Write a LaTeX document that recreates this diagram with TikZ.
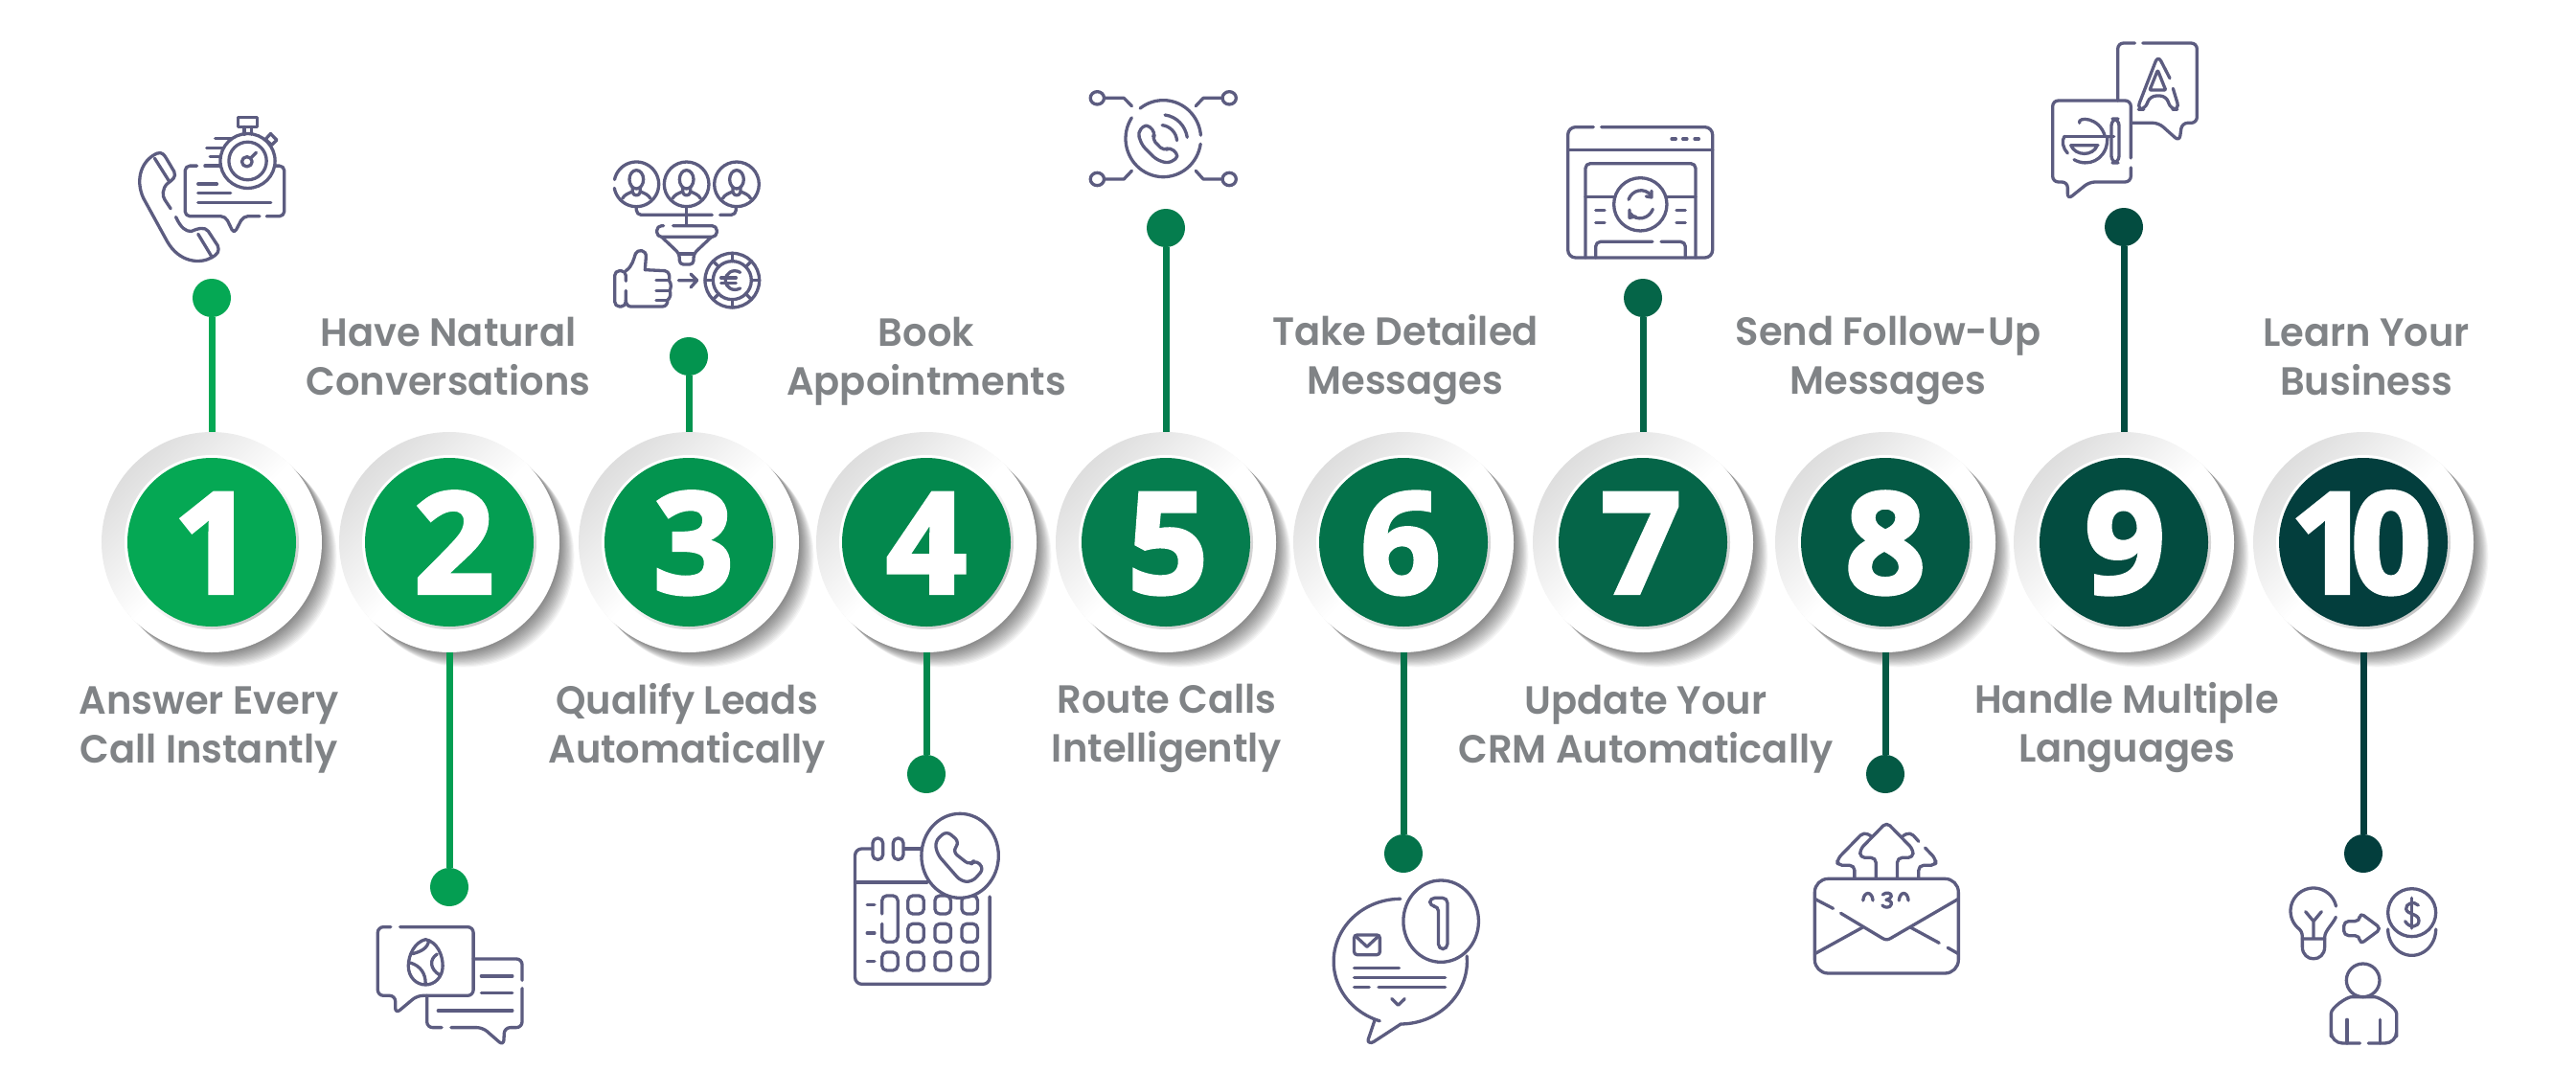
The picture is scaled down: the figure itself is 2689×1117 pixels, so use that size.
\documentclass[tikz,border=0pt]{standalone}
\usepackage{fontspec}
\newfontfamily\labfont[FakeStretch=0.975]{Poppins SemiBold}
\newfontfamily\digfont[FakeBold=3]{Open Sans Bold}
\definecolor{iconc}{HTML}{5C5C80}
\definecolor{labc}{HTML}{808386}
\definecolor{c1}{HTML}{05A854}
\definecolor{c2}{HTML}{049E52}
\definecolor{c3}{HTML}{03944F}
\definecolor{c4}{HTML}{03884D}
\definecolor{c5}{HTML}{057D4E}
\definecolor{c6}{HTML}{04724A}
\definecolor{c7}{HTML}{056548}
\definecolor{c8}{HTML}{045944}
\definecolor{c9}{HTML}{034C40}
\definecolor{c10}{HTML}{033E3D}
\tikzset{
  ringnode/.style={circle,minimum size=230pt,inner sep=0pt,top color=black!13,bottom color=white,middle color=white,shading angle=45},
  rimnode/.style={circle,minimum size=182pt,inner sep=0pt,top color=white,bottom color=black!22,middle color=white,shading angle=45},
  discnode/.style={circle,minimum size=176pt,inner sep=0pt},
  digitnode/.style={anchor=base,text=white,inner sep=0pt,font=\digfont\fontsize{146}{146}\selectfont},
  dotnode/.style={circle,minimum size=40pt,inner sep=0pt},
  conn/.style={line width=7pt},
  labelnode/.style={text=labc,align=center,inner sep=0pt,font=\labfont\fontsize{41}{51}\selectfont},
  icon/.style={draw=iconc,line width=3.3pt,line cap=round,line join=round},
  rc/.style={rounded corners=#1pt},
}
\newcommand{\earc}[6]{\draw plot[domain=#5:#6,samples=40,smooth,variable=\t] ({#1+#3*cos(\t)},{#2+#4*sin(\t)});}
\begin{document}
\begin{tikzpicture}[x=1pt,y=-1pt]
\useasboundingbox (0,0) rectangle (2689,1117);
\fill[white] (0,0) rectangle (2689,1117);
\foreach \n/\cx/\dy/\ox in {1/221/311/2,2/469/926/5,3/719/372/5,4/967/808/0,5/1217/238/2,6/1465/891/-3,7/1715/311/-2,8/1968/808/0,9/2217/237/1,10/2467/891/-3}{
  \foreach \k in {1,...,14}{\fill[black,opacity=.038] ({\cx+\k*1.1},{566+\k*1.1}) circle[radius=115];}
  \node[ringnode] (r\n) at (\cx,566) {};
  \node[rimnode] (m\n) at (\cx,566) {};
  \node[discnode,fill=c\n] (s\n) at (\cx,566) {};
  \node[digitnode] (t\n) at ({\cx+\ox},619) {\ifnum\n=10 1\kern-20pt 0\else\n\fi};
  \node[dotnode,fill=c\n] (d\n) at (\cx,\dy) {};
  \draw[conn,draw=c\n] (d\n) -- (r\n);
}
% labels
\foreach \i/\lx/\ly/\ta/\tb in {
 1/218/760/{Answer Every}/{Call Instantly},
 2/468/376/{Have Natural}/{Conversations},
 3/717/760/{Qualify Leads}/{Automatically},
 4/967/376/{Book}/{Appointments},
 5/1218/760/{Route Calls}/{Intelligently},
 6/1467/376/{Take Detailed}/{Messages},
 7/1718/760/{Update Your}/{CRM Automatically},
 8/1971/376/{Send Follow-Up}/{Messages},
 9/2220/760/{Handle Multiple}/{Languages},
 10/2470/376/{Learn Your}/{Business}}{
  \node[labelnode] (l\i) at (\lx,\ly) {\rule{0pt}{32pt}\ta\\\tb\rule[-11pt]{0pt}{11pt}};
}
% ---- icon 1
\begin{scope}[shift={(80,100)},xscale=0.3571,yscale=0.3953,icon]
 \draw (290,320) .. controls (305,350) and (320,358) .. (335,358) .. controls (355,350) and (375,345) .. (385,358) -- (412,395) .. controls (420,410) and (410,420) .. (395,427) .. controls (360,445) and (300,440) .. (265,385) -- (195,270) .. controls (170,220) and (190,170) .. (235,152) .. controls (250,148) and (255,155) .. (262,165) -- (285,200) .. controls (292,215) and (280,222) .. (265,232) .. controls (250,245) and (250,265) .. (258,275) -- (275,298);
 \draw (228,165) -- (270,225) (355,365) -- (395,425);
 \draw[rc=5] (352,185) -- (317,185) -- (317,318) -- (435,318) -- (460,365) -- (487,318) -- (535,318);
 \draw[rc=5] (555,318) -- (607,318) -- (607,185) -- (575,185);
 \draw (375,185)--(420,185) (405,113)--(470,113) (380,137)--(440,137) (390,160)--(430,160);
 \draw (355,233)--(410,233) (355,257)--(450,257) (355,282)--(568,282);
 \draw[fill=white] (500,172) circle[x radius=80,y radius=72];
 \draw (500,172) circle[x radius=55,y radius=50];
 \draw (498,174) circle[x radius=15,y radius=13];
 \draw (508,165)--(525,150);
 \draw (490,82)--(490,102) (512,82)--(512,102);
 \draw (472,57) rectangle (528,82);
 \draw (552,115)--(567,100)--(585,117)--(570,130)--cycle;
\end{scope}
% ---- icon 2
\begin{scope}[shift={(340,700)},xscale=0.4847,yscale=0.3333,icon]
 \draw[rc=6] (140,803) -- (112,803) -- (112,1018) -- (150,1018) -- (150,1075) -- (197,1018) -- (318,1018) -- (318,803) -- (160,803);
 \draw[rc=6] (318,903) -- (423,903) -- (423,970);
 \draw[rc=6] (423,995) -- (423,1118) -- (385,1118) -- (383,1175) -- (338,1118) -- (270,1118);
 \draw[rc=6] (250,1118) -- (218,1118) -- (218,1018);
 \draw (335,957)--(402,957) (335,1010)--(402,1010) (242,1065)--(402,1065);
 \draw (215,842) .. controls (240,850) and (252,890) .. (252,925) .. controls (252,960) and (235,984) .. (215,984) .. controls (195,984) and (178,960) .. (178,925) .. controls (178,890) and (192,850) .. (215,842) -- cycle;
 \draw (222,845) .. controls (220,870) and (205,880) .. (187,887);
 \draw (182,915) .. controls (205,925) and (215,950) .. (215,980);
 \draw (240,888) .. controls (222,905) and (225,935) .. (245,953);
\end{scope}
% ---- icon 3
\begin{scope}[shift={(620,150)},scale=0.3333,icon]
 \earc{133}{127}{70}{70}{10}{170}
 \earc{133}{127}{70}{70}{192}{370}
 \draw (290,127) circle[radius=70];
 \draw (447,127) circle[radius=70];
 \foreach \hx in {133,290,447}{
  \draw ({\hx},112) circle[x radius=22,y radius=29];
  \draw ({\hx-12},138) -- ({\hx-12},152) .. controls ({\hx-8},165) and ({\hx+8},165) .. ({\hx+12},152) -- ({\hx+12},138);
  \draw ({\hx-44},172) .. controls ({\hx-38},160) and ({\hx-25},155) .. ({\hx-12},150);
  \draw ({\hx+44},172) .. controls ({\hx+38},160) and ({\hx+25},155) .. ({\hx+12},150);
 }
 \draw[rc=5] (133,197) -- (133,223) -- (370,223);
 \draw[rc=5] (395,223) -- (445,223) -- (445,197);
 \draw (290,197) -- (290,255);
 \draw[rc=5] (218,257) -- (197,257) -- (197,292) -- (385,292) -- (385,257) -- (248,257);
 \draw[rc=4] (212,292) -- (268,345) -- (268,378) -- (312,378) -- (312,345) -- (368,292);
 \draw (268,345)--(312,345);
 \draw[rc=5] (100,430) -- (100,398) -- (65,398) -- (65,510) -- (100,510) -- (100,460);
 \draw (100,398) .. controls (120,385) and (125,360) .. (130,345) .. controls (135,330) and (165,330) .. (163,355) -- (160,395) -- (222,398) .. controls (238,400) and (238,420) .. (235,428) .. controls (245,440) and (240,455) .. (237,460) .. controls (243,470) and (238,485) .. (230,490) .. controls (232,500) and (225,510) .. (215,510) -- (115,510) .. controls (105,510) and (100,500) .. (100,490);
 \draw (195,428)--(235,428) (195,460)--(237,460) (195,490)--(230,490);
 \draw (265,428)--(322,428) (303,408)--(323,428)--(303,450);
 \draw (433,428) circle[radius=85];
 \draw (433,428) circle[radius=60];
 \draw (433,343)--(433,368) (433,488)--(433,513) (348,428)--(373,428) (493,428)--(518,428);
 \draw (373,368)--(391,386) (493,368)--(475,386) (373,488)--(391,470) (493,488)--(475,470);
 \draw (458,403) .. controls (435,390) and (412,405) .. (412,428) .. controls (412,450) and (435,465) .. (458,453);
 \draw (398,420)--(445,420) (398,436)--(445,436);
\end{scope}
% ---- icon 4
\begin{scope}[shift={(340,700)},xscale=0.4847,yscale=0.3333,icon]
 \draw[rc=7] (1178,558) -- (1140,558) -- (1140,982) -- (1430,982) -- (1430,708);
 \draw (1243,558) -- (1283,558) (1140,663) -- (1295,663);
 \draw[rc=5,fill=white] (1178,525) rectangle (1200,592);
 \draw[rc=5,fill=white] (1222,525) rectangle (1244,592);
 \draw[rc=5] (1198,762) -- (1198,705) -- (1232,705) -- (1232,850) -- (1198,850) -- (1198,793);
 \foreach \gx/\gy in {1254/705,1312/705,1370/705,1254/793,1312/793,1370/793,1254/882,1312/882,1370/882,1198/882}{
  \draw[rc=5] (\gx,\gy) rectangle ({\gx+34},{\gy+57});
 }
 \draw (1166,733)--(1182,733) (1166,822)--(1182,822) (1166,911)--(1182,911);
 \draw[fill=white] (1366,580) circle[x radius=83,y radius=132];
 \draw[rc=6] (1337,502) -- (1365,537) -- (1350,567) -- (1388,610) -- (1398,592) -- (1418,620) -- (1392,662) -- (1368,660) -- (1317,575) -- (1312,535) -- cycle;
\end{scope}
% ---- icon 5
\begin{scope}[shift={(1100,60)},xscale=0.3571,yscale=0.3333,icon]
 \earc{320}{254}{110}{120}{-128}{-5}
 \earc{320}{254}{110}{120}{8}{213}
 \foreach \px/\py in {127/127,513/127,127/381,513/381}{\draw (\px,\py) circle[x radius=20,y radius=20];}
 \draw (148,127)--(205,127)--(228,152) (490,127)--(437,127)--(415,152);
 \draw (148,381)--(205,381)--(228,355) (490,381)--(437,381)--(415,355);
 \draw[rc=5] (270,207) -- (298,236) -- (287,255) -- (322,293) -- (340,280) -- (367,310) -- (335,332) -- (300,320) -- (258,275) -- (245,235) -- cycle;
 \draw (325,180) .. controls (360,185) and (385,215) .. (390,250);
 \draw (317,212) .. controls (340,215) and (358,235) .. (360,260);
\end{scope}
% ---- icon 6
\begin{scope}[shift={(1360,820)},xscale=0.4464,yscale=0.3333,icon]
 \earc{228}{551}{156}{196}{-90}{-252}
 \earc{228}{551}{156}{196}{90}{-5}
 \draw (168,735) -- (153,795) .. controls (150,805) and (160,808) .. (165,803) -- (228,748);
 \draw[fill=white] (323,425) circle[x radius=88,y radius=128];
 \draw[rc=5] (297,378) -- (297,352) -- (338,352) -- (338,512) -- (317,512) -- (317,378) -- cycle;
 \draw[rc=3] (120,468) rectangle (180,530);
 \draw (122,470)--(150,505)--(178,470);
 \draw (120,571)--(225,571) (120,601)--(333,601) (120,631)--(155,631) (177,631)--(333,631);
 \draw (208,668)--(223,688)--(238,668);
\end{scope}
% ---- icon 7
\begin{scope}[shift={(1620,120)},scale=0.3333,icon]
 \draw[rc=8] (130,38) -- (50,38) -- (50,447) -- (503,447) -- (503,38) -- (155,38);
 \draw (50,110)--(503,110);
 \draw (375,75)--(388,75) (410,75)--(423,75) (447,75)--(460,75);
 \draw[rc=5] (105,447) -- (105,152) -- (450,152) -- (450,447);
 \draw (105,257)--(195,257) (360,257)--(450,257);
 \draw (277,280) circle[radius=83];
 \draw (240,265) .. controls (250,235) and (290,225) .. (310,252);
 \draw (312,238)--(312,258)--(295,255);
 \draw (316,295) .. controls (305,325) and (265,335) .. (245,308);
 \draw (243,297)--(243,322)--(262,318);
 \draw (137,298)--(165,298) (137,338)--(165,338) (390,298)--(418,298) (390,338)--(418,338);
 \draw[rc=5] (137,447) -- (137,397) -- (315,397);
 \draw[rc=5] (342,397) -- (418,397) -- (418,447);
\end{scope}
% ---- icon 8
\begin{scope}[shift={(1360,820)},xscale=0.4464,yscale=0.3333,icon]
 \draw[rc=14] (1197,292) rectangle (1533,588);
 \draw (1197,355)--(1240,385) (1258,400)--(1355,478) .. controls (1362,484) and (1368,484) .. (1375,478)--(1533,355);
 \draw (1197,527)--(1308,445) (1422,445)--(1488,493) (1508,508)--(1533,527);
 \draw[rc=5] (1340,292) -- (1340,226) -- (1303,226) -- (1303,200) -- (1365,115) -- (1427,200) -- (1427,226) -- (1390,226) -- (1390,292);
 \draw[rc=5] (1290,292) -- (1290,250) -- (1250,250) -- (1250,230) -- (1312,145) -- (1328,158);
 \draw[rc=5] (1440,292) -- (1440,250) -- (1480,250) -- (1480,230) -- (1455,195);
 \draw[rc=5] (1440,175) -- (1420,145) -- (1403,158);
 \draw (1310,360) .. controls (1312,330) and (1331,330) .. (1333,360);
 \draw (1394,360) .. controls (1396,330) and (1414,330) .. (1416,360);
 \draw (1356,342) .. controls (1362,333) and (1378,335) .. (1376,347) .. controls (1375,355) and (1368,357) .. (1364,358) .. controls (1372,359) and (1378,365) .. (1376,372) .. controls (1374,384) and (1360,384) .. (1355,375);
\end{scope}
% ---- icon 9
\begin{scope}[shift={(2100,20)},scale=0.3333,icon]
 \draw[rc=6] (385,75) -- (332,75) -- (332,255);
 \draw[rc=6] (375,325) -- (460,325) -- (525,383) -- (533,325) -- (580,325) -- (580,75) -- (410,75);
 \draw[rc=7] (495,185) -- (458,113) -- (392,283) -- (418,283) -- (432,240) -- (485,240) -- (497,283) -- (525,283) -- (505,217);
 \draw[rc=1] (432,222)--(457,160)--(482,222)--cycle;
 \draw[rc=6] (373,435) -- (373,255) -- (128,255) -- (128,510) -- (175,510) -- (175,565) -- (243,510) -- (373,510) -- (373,465);
 \draw (212,325) .. controls (205,305) and (275,305) .. (292,367);
 \draw (165,367)--(320,367);
 \draw (165,367) .. controls (155,380) and (160,405) .. (175,420);
 \draw (185,395)--(270,395) (185,395) .. controls (200,430) and (255,430) .. (268,395);
 \draw (195,440) .. controls (240,465) and (290,440) .. (298,390) -- (300,367);
 \draw[rc=7] (322,450) -- (312,450) -- (312,312) -- (336,312) -- (336,450) -- (322,450);
\end{scope}
% ---- icon 10
\begin{scope}[shift={(2340,880)},scale=0.3333,icon]
 \earc{225}{213}{72}{72}{-12}{-225}
 \draw (174,264) .. controls (185,272) and (190,280) .. (190,295) -- (190,325) .. controls (190,375) and (260,375) .. (260,325) -- (260,295) .. controls (260,275) and (285,255) .. (295,232);
 \draw (190,300)--(260,300) (200,215)--(225,245)--(250,215) (225,245)--(225,300);
 \draw[rc=5] (320,245) -- (370,245) -- (370,218) -- (437,268) -- (370,318) -- (370,290) -- (320,290) -- cycle;
 \draw (533,218) circle[radius=75];
 \earc{533}{270}{75}{82}{180}{0}
 \draw (553,195) .. controls (540,180) and (512,190) .. (515,207) .. controls (518,225) and (555,220) .. (555,243) .. controls (555,265) and (525,268) .. (512,245);
 \draw (533,172)--(533,267);
 \draw (380,430) circle[radius=52];
 \draw[rc=12] (370,627) -- (280,627) -- (280,570) .. controls (280,515) and (330,482) .. (380,482) .. controls (430,482) and (485,515) .. (485,570) -- (485,627) -- (397,627);
 \draw (330,553)--(330,627) (433,553)--(433,627);
\end{scope}
\end{tikzpicture}
\end{document}
